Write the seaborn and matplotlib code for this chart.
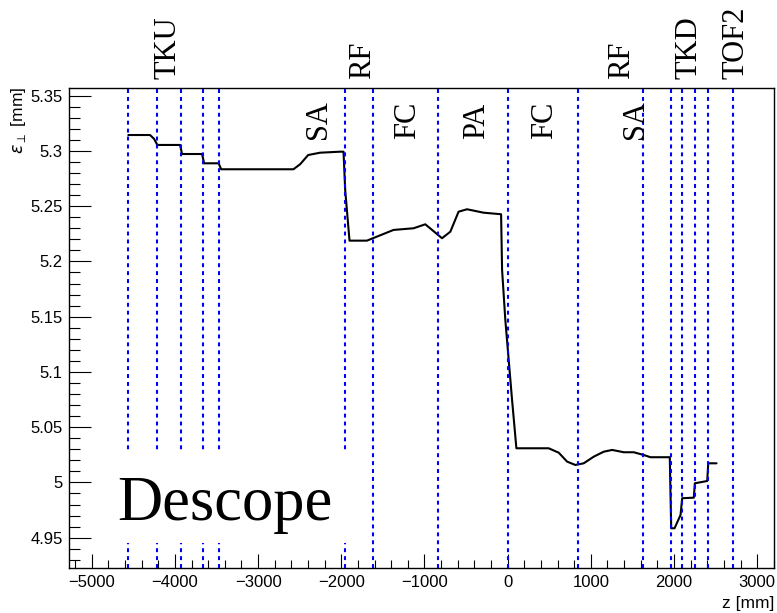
import matplotlib
matplotlib.use('Agg')
import matplotlib.pyplot as plt
import matplotlib.transforms as mtransforms
from matplotlib.ticker import MultipleLocator, FormatStrFormatter
from matplotlib.patches import Rectangle
import seaborn as sns
import pandas as pd

# ---- data ----
z_mm = [-4560, -4299, -4251, -4211, -3938, -3914, -3673, -3649, -3474, -3444,
        -2575, -2494, -2398, -2254, -2014, -1973, -1953, -1901, -1692, -1619,
        -1372, -1131, -990, -789, -689, -590, -488, -289, -79, -67, -28, 53, 105,
        493, 614, 715, 814, 914, 1035, 1155, 1256, 1396, 1516, 1636, 1717, 1949,
        1957, 1966, 2006, 2078, 2098, 2238, 2250, 2399, 2411, 2511]
emittance = [5.3144, 5.3144, 5.3110, 5.3054, 5.3054, 5.2972, 5.2972, 5.2888, 5.2888, 5.2834,
             5.2834, 5.2880, 5.2963, 5.2984, 5.2993, 5.2993, 5.2647, 5.2188, 5.2188, 5.2210,
             5.2285, 5.2300, 5.2336, 5.2210, 5.2269, 5.2450, 5.2472, 5.2441, 5.2427, 5.1923,
             5.1470, 5.0746, 5.0309,
             5.0309, 5.0269, 5.0188, 5.0158, 5.0173, 5.0233, 5.0278, 5.0294, 5.0273, 5.0273,
             5.0248, 5.0228, 5.0228,
             4.9916, 4.9585, 4.9585, 4.9705, 4.9857, 4.9862, 4.9992, 5.0013, 5.0173, 5.0173]

boundary_z = [-4560, -4210, -3925, -3665, -3465, -1953, -1619, -842, 0,
              845, 1629, 1961, 2098, 2250, 2403, 2707]

top_labels = ['TKU', 'RF', 'RF', 'TKD', 'TOF2']
top_label_z = [-4087, -1748, 1368, 2174, 2739]
inner_labels = ['SA', 'FC', 'PA', 'FC', 'SA']
inner_label_z = [-2278, -1207, -377, 441, 1536]

x_ticks = [-5000, -4000, -3000, -2000, -1000, 0, 1000, 2000, 3000]
y_ticks = [4.95, 5.0, 5.05, 5.1, 5.15, 5.2, 5.25, 5.3, 5.35]

df = pd.DataFrame({'z': z_mm, 'eps': emittance})

sns.set_style('ticks')
plt.rcParams['font.family'] = ['Liberation Sans', 'DejaVu Sans']
plt.rcParams['mathtext.fontset'] = 'dejavusans'
plt.rcParams['text.color'] = 'black'
plt.rcParams['axes.labelcolor'] = 'black'

fig = plt.figure(figsize=(7.77, 6.13), dpi=100)
ax = fig.add_axes([0.0888, 0.0726, 0.9077, 0.7834])

sns.lineplot(data=df, x='z', y='eps', sort=False, estimator=None,
             color='black', linewidth=1.5, ax=ax, zorder=2)

for zb in boundary_z:
    ax.axvline(zb, color='#0000ff', linewidth=1.5, linestyle=(0, (1.9, 1.9)), zorder=3)

ax.set_xlim(-5273, 3205)
ax.set_ylim(4.9221, 5.3567)
ax.set_xticks(x_ticks)
ax.set_yticks(y_ticks)
ax.xaxis.set_minor_locator(MultipleLocator(200))
ax.yaxis.set_minor_locator(MultipleLocator(0.01))
ax.yaxis.set_major_formatter(FormatStrFormatter('%g'))
ax.set_xlabel('')
ax.set_ylabel('')

ax.tick_params(axis='both', which='both', direction='in', top=False, right=False,
               colors='black', labelsize=12, width=0.8)
ax.tick_params(axis='x', which='major', length=10, pad=5)
ax.tick_params(axis='x', which='minor', length=5.5)
ax.tick_params(axis='y', which='major', length=15.6, pad=4.5)
ax.tick_params(axis='y', which='minor', length=7.9)
for s in ax.spines.values():
    s.set_visible(True)
    s.set_color('black')
    s.set_linewidth(1.0)

trans = mtransforms.blended_transform_factory(ax.transData, ax.transAxes)
for lab, zx in zip(top_labels, top_label_z):
    ax.text(zx, 1.0194, lab, transform=trans, rotation=90, ha='center', va='bottom',
            family='Liberation Serif', fontsize=22, color='black', clip_on=False)
for lab, zx in zip(inner_labels, inner_label_z):
    ax.text(zx, 0.8944, lab, transform=trans, rotation=90, ha='center', va='bottom',
            family='Liberation Serif', fontsize=22, color='black', zorder=4)

ax.add_patch(Rectangle((0.044, 0.0531), 0.3516, 0.1874, transform=ax.transAxes,
                       facecolor='white', edgecolor='none', zorder=5))
ax.text(0.069, 0.101, 'Descope', transform=ax.transAxes, ha='left', va='baseline',
        family='Liberation Serif', fontsize=45, color='black', zorder=6)

fig.text(19 / 777, 1 - 87 / 613, r'$\varepsilon_{\perp}$ [mm]', rotation=90,
         ha='center', va='top', fontsize=12.5, color='black')
fig.text(774.3 / 777, 1 - 608 / 613, 'z [mm]', ha='right', va='baseline',
         fontsize=12.5, color='black')

fig.savefig('out.png', dpi=100)
